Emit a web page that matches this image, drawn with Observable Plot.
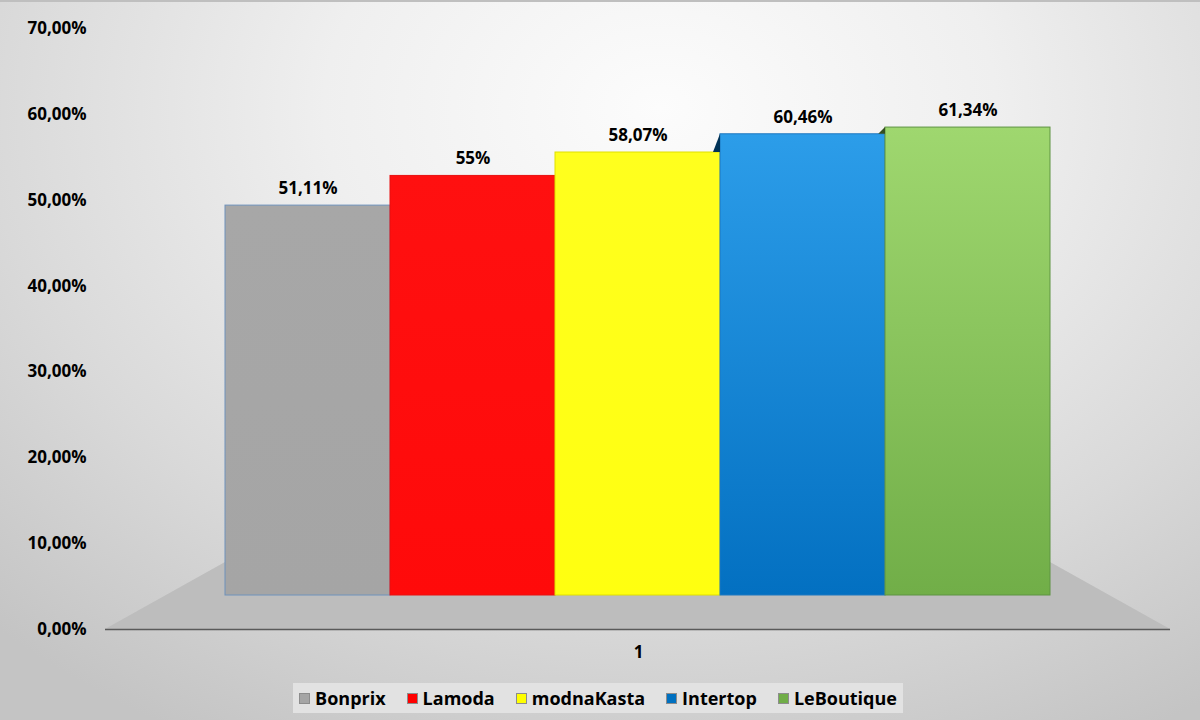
<!DOCTYPE html>
<html><head><meta charset="utf-8">
<script src="https://cdn.jsdelivr.net/npm/d3@7"></script>
<script src="https://cdn.jsdelivr.net/npm/@observablehq/plot@0.6"></script>
<style>
body{margin:0;}
#chart{position:relative;width:1200px;height:720px;overflow:hidden;
 background:radial-gradient(ellipse 80% 100% at 55% 15%, #fcfcfc 0%, #efefef 35%, #d9d9d9 70%, #c4c4c4 100%);
 box-shadow:inset 0 2px 0 #bfbfbf;font-family:"Open Sans",sans-serif;}
#chart svg{position:absolute;left:0;top:0;}
#legend{position:absolute;left:293px;top:683px;width:610px;height:30px;background:#e2e2e2;
 display:flex;align-items:center;justify-content:center;gap:21px;font-weight:700;font-size:18px;color:#000;}
#legend .item{display:flex;align-items:center;gap:5px;}
#legend .sw{width:11px;height:11px;border:1px solid #8c8c8c;box-sizing:border-box;}
</style></head>
<body>
<div id="chart"><div id="legend"></div></div>
<script>
// ---- data ----
const category = ["1"];
const companies = ["Bonprix", "Lamoda", "modnaKasta", "Intertop", "LeBoutique"];
const values = [51.11, 55, 58.07, 60.46, 61.34];
const valueLabels = ["51,11%", "55%", "58,07%", "60,46%", "61,34%"];
const yTicks = [0, 10, 20, 30, 40, 50, 60, 70];
const yTickLabels = ["0,00%", "10,00%", "20,00%", "30,00%", "40,00%", "50,00%", "60,00%", "70,00%"];

// ---- styles ----
const topColors = ["#a7a7a7", "#ff1010", "#ffff1e", "#2c9de9", "#9fd76f"];
const bottomColors = ["#a5a5a5", "#ff0a0a", "#ffff10", "#0370c1", "#71ae48"];
const strokeColors = ["#6e92bb", "#e81010", "#e0e000", "#1f78c0", "#5f9443"];
const legendColors = ["#a5a5a5", "#ff0000", "#ffff00", "#0070c0", "#70ad47"];
const FONT = "'Open Sans', sans-serif";

const rows = companies.map((c, i) => ({i, company: c, value: values[i], label: valueLabels[i]}));

const chart = document.getElementById("chart");
const W = 1200, H = 670;
const barRange = [225, 1050];
const floorBackY = 562;

// floor (drawn with the axis plot's scales)
function floorMark(index, scales, values, dims) {
  const y0 = scales.y(0);
  const ns = "http://www.w3.org/2000/svg";
  const p = document.createElementNS(ns, "polygon");
  const pts = [[dims.marginLeft, y0], [dims.width - dims.marginRight, y0],
               [barRange[1], floorBackY], [barRange[0], floorBackY]];
  p.setAttribute("points", pts.map(d => d.join(",")).join(" "));
  p.setAttribute("fill", "#bdbdbd");
  return p;
}

const axisPlot = Plot.plot({
  width: W, height: H,
  marginLeft: 105, marginRight: 30, marginTop: 28, marginBottom: 41,
  style: {background: "transparent", fontFamily: FONT, fontSize: "17px", fontWeight: 700, color: "#000", overflow: "visible"},
  x: {domain: category, padding: 0},
  y: {domain: [0, 70]},
  marks: [
    floorMark,
    Plot.ruleY([0], {stroke: "#5a5a5a", strokeWidth: 1.5}),
    Plot.axisY(yTicks, {tickSize: 0, tickPadding: 19, label: null,
      tickFormat: d => yTickLabels[yTicks.indexOf(d)], fontSize: 17, fontWeight: 700, fill: "#000"}),
    Plot.axisX({tickSize: 0, tickPadding: 16, label: null, fontSize: 17, fontWeight: 700, fill: "#000"})
  ]
});
chart.appendChild(axisPlot);

// gradient definitions
function defsMark() {
  const ns = "http://www.w3.org/2000/svg";
  const g = document.createElementNS(ns, "g");
  const defs = document.createElementNS(ns, "defs");
  companies.forEach((c, i) => {
    const lg = document.createElementNS(ns, "linearGradient");
    lg.setAttribute("id", "barGrad" + i);
    lg.setAttribute("x1", "0"); lg.setAttribute("y1", "0");
    lg.setAttribute("x2", "0"); lg.setAttribute("y2", "1");
    [[0, topColors[i]], [1, bottomColors[i]]].forEach(([o, col]) => {
      const s = document.createElementNS(ns, "stop");
      s.setAttribute("offset", o);
      s.setAttribute("stop-color", col);
      lg.appendChild(s);
    });
    defs.appendChild(lg);
  });
  g.appendChild(defs);
  return g;
}

// visible side slivers of bars right of centre (3D look)
function sideMark(index, scales) {
  const ns = "http://www.w3.org/2000/svg";
  const g = document.createElementNS(ns, "g");
  const center = W / 2 + 37;
  rows.forEach((d, i) => {
    if (i === 0) return;
    const x0 = scales.x(d.company);
    if (x0 <= center || d.value <= rows[i - 1].value) return;
    const yt = scales.y(d.value), yp = scales.y(rows[i - 1].value);
    const w = Math.min(7, yp - yt);
    const p = document.createElementNS(ns, "polygon");
    p.setAttribute("points", `${x0},${yt} ${x0 - w},${yp} ${x0},${yp}`);
    p.setAttribute("fill", d3.color(bottomColors[i]).darker(2.2).formatHex());
    g.appendChild(p);
  });
  return g;
}

const barPlot = Plot.plot({
  width: W, height: H, margin: 0,
  style: {background: "transparent", fontFamily: FONT, fontSize: "17px", fontWeight: 700, color: "#000", overflow: "visible"},
  x: {domain: companies, range: barRange, padding: 0, axis: null},
  y: {domain: [0, 70], range: [595, 61], axis: null},
  color: {type: "identity"},
  marks: [
    defsMark,
    Plot.barY(rows, {x: "company", y: "value", fill: d => `url(#barGrad${d.i})`,
      stroke: d => strokeColors[d.i], strokeWidth: 1}),
    sideMark,
    Plot.text(rows, {x: "company", y: "value", text: "label", dy: -17,
      fill: "#000", fontSize: 17, fontWeight: 700})
  ]
});
chart.appendChild(barPlot);

// legend
const legend = document.getElementById("legend");
chart.appendChild(legend);
companies.forEach((c, i) => {
  const it = document.createElement("div");
  it.className = "item";
  const sw = document.createElement("div");
  sw.className = "sw";
  sw.style.background = legendColors[i];
  const t = document.createElement("span");
  t.textContent = c;
  it.appendChild(sw); it.appendChild(t);
  legend.appendChild(it);
});
</script>
</body></html>
